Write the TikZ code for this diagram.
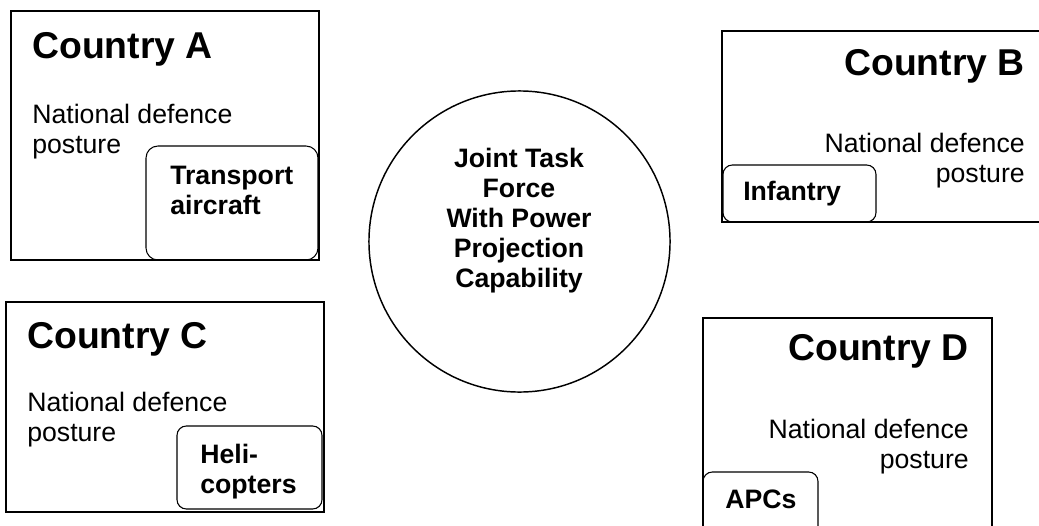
\documentclass[tikz,border=0pt]{standalone}
\usepackage{fontspec}
\setmainfont{Liberation Sans}
\usetikzlibrary{positioning, fit}

\begin{document}
\begin{tikzpicture}[x=0.75pt, y=-0.75pt,
  cbox/.style={draw=black, line width=1.1pt, inner sep=0pt},
  ubox/.style={draw=black, line width=0.8pt, rounded corners=7pt, inner sep=0pt},
  hub/.style={circle, draw=black, line width=1.1pt, minimum size=225.8pt, inner sep=0pt},
  ttl/.style={inner sep=0pt, font=\fontsize{28}{32}\selectfont\bfseries},
  txt/.style={inner sep=0pt, font=\fontsize{20}{22.5}\selectfont},
  utxt/.style={inner sep=0pt, font=\fontsize{20}{22}\selectfont\bfseries}
]
  \clip (0,0) rectangle (1039,525);

  % country boxes
  \node[cbox, fit={(11,11) (319,260)}]   (ca) {};
  \node[cbox, fit={(722,31) (1050,222)}] (cb) {};
  \node[cbox, fit={(6,302) (324,512)}]   (cc) {};
  \node[cbox, fit={(703,318) (992,540)}] (cd) {};

  % unit boxes
  \node[ubox, rounded corners=9pt, fit={(146,146) (318,260)}] (ua) {};
  \node[ubox, fit={(723,165) (876,222)}] (ub) {};
  \node[ubox, fit={(177,426) (322,509)}] (uc) {};
  \node[ubox, fit={(703,472) (818,540)}] (ud) {};

  % titles
  \node[ttl, anchor=base west] (ta) at (32,58)   {Country A};
  \node[ttl, anchor=base east] (tb) at (1025,75) {Country B};
  \node[ttl, anchor=base west] (tc) at (27,348)  {Country C};
  \node[ttl, anchor=base east] (td) at (969,360) {Country D};

  % posture texts (base = last line)
  \node[txt, anchor=base west, align=left]  (pa) at (32,153)  {National defence\\posture};
  \node[txt, anchor=base east, align=right] (pb) at (1025,182) {National defence\\posture};
  \node[txt, anchor=base west, align=left]  (pc) at (27,441)  {National defence\\posture};
  \node[txt, anchor=base east, align=right] (pd) at (969,468) {National defence\\posture};

  % unit labels
  \node[utxt, anchor=base west, align=left] (la) at (170,214) {Transport\\aircraft};
  \node[utxt, anchor=base west] (lb) at (743,200) {Infantry};
  \node[utxt, anchor=base west, align=left] (lc) at (200,493) {Heli-\\copters};
  \node[utxt, anchor=base west] (ld) at (725,508) {APCs};

  % joint task force
  \node[hub] (jtf) at (519.5,241.5) {};
  \node[txt, font=\fontsize{20}{22.5}\selectfont\bfseries, anchor=base, align=center] (jt) at (519,287)
    {Joint Task\\Force\\With Power\\Projection\\Capability};
\end{tikzpicture}
\end{document}
